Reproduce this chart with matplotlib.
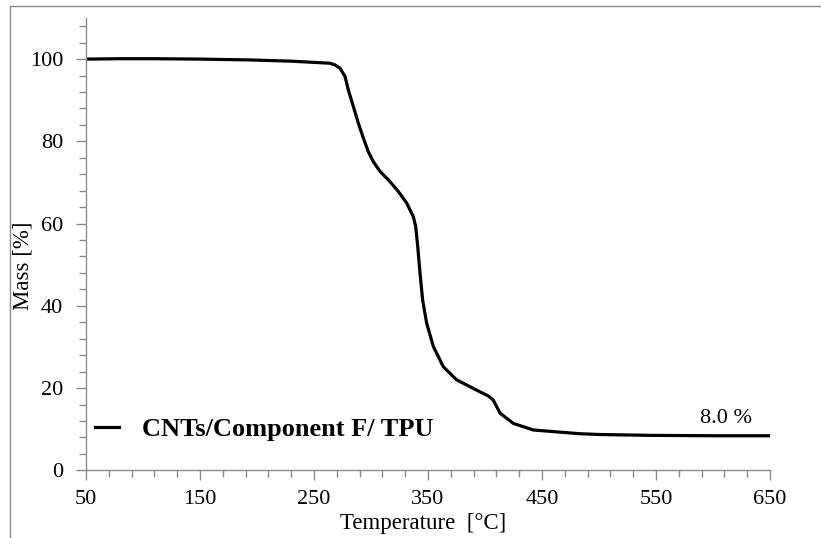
import matplotlib
matplotlib.use("Agg")
import matplotlib.pyplot as plt
from matplotlib.ticker import FixedLocator, MultipleLocator
from matplotlib.lines import Line2D
import numpy as np

temperature = [50, 80, 110, 150, 194, 230, 264, 268.4, 272.8, 277.2, 280.1, 284.5, 288.9,
               293.3, 297.6, 302, 307.9, 316.7, 324, 331.3, 337.1, 339.2, 341, 343,
               345.3, 348.8, 354.7, 363.4, 375.1, 392.6, 402.8, 407.2, 413.2, 424.9,
               442.4, 483, 501, 545, 600, 650]
mass = [100.0, 100.1, 100.1, 100.0, 99.8, 99.5, 99.0, 98.6, 97.8, 95.8, 92.5, 88.5, 84.4,
        80.8, 77.5, 75.1, 72.7, 70.2, 67.8, 65.0, 61.7, 59.3, 54.4, 47.9,
        41.4, 35.8, 30.1, 25.2, 22.0, 19.5, 18.1, 17.1, 13.9, 11.4,
        9.8, 8.9, 8.7, 8.5, 8.4, 8.4]
series_label = "CNTs/Component F/ TPU"
residue_label = "8.0 %"
x_ticks = [50, 150, 250, 350, 450, 550, 650]
y_ticks = [0, 20, 40, 60, 80, 100]

plt.rcParams['font.family'] = ['Liberation Serif', 'DejaVu Serif']

fig = plt.figure(figsize=(8.21, 5.38), dpi=100)
ax_left, ax_right, ax_top, ax_bottom = 86, 770, 18, 470.3
ax = fig.add_axes([ax_left/821, 1-ax_bottom/538, (ax_right-ax_left)/821, (ax_bottom-ax_top)/538])

ax.plot(temperature, mass, color='black', lw=2.3, solid_capstyle='round',
        solid_joinstyle='round')

ax.set_xlim(50, 650)
ax.set_ylim(0, 110)
ax.set_xticks(x_ticks)
ax.set_yticks(y_ticks)
ax.xaxis.set_minor_locator(FixedLocator(np.arange(50, 651, 20)))
ax.yaxis.set_minor_locator(MultipleLocator(4))

gray = '#8a8a8a'
for s in ['top', 'right']:
    ax.spines[s].set_visible(False)
for s in ['left', 'bottom']:
    ax.spines[s].set_color(gray)
    ax.spines[s].set_linewidth(1.0)
ax.tick_params(which='major', direction='out', length=7, width=1.0, color=gray,
               labelsize=16)
ax.tick_params(which='minor', direction='out', length=5, width=1.0, color=gray)
ax.tick_params(axis='x', which='major', pad=7)
ax.tick_params(axis='y', which='major', pad=9.5)

ax.set_xlabel("Temperature  [°C]", fontsize=16.5, va='top')
ax.xaxis.set_label_coords((423-ax_left)/(ax_right-ax_left), (ax_bottom-513)/(ax_bottom-ax_top))
ax.set_ylabel("Mass [%]", fontsize=16.5, va='bottom')
ax.yaxis.set_label_coords((34-ax_left)/(ax_right-ax_left), (ax_bottom-266)/(ax_bottom-ax_top))

ax.text(611, 12.5, residue_label, fontsize=16, ha='center', va='center')

handle = Line2D([0], [0], color='black', lw=2.3)
leg = ax.legend([handle], [series_label], loc='center left',
                bbox_to_anchor=((95-ax_left)/(ax_right-ax_left), (ax_bottom-429)/(ax_bottom-ax_top)),
                frameon=False, handlelength=0.9, handletextpad=0.9, borderpad=0, borderaxespad=0,
                prop={'family': ['Liberation Serif'], 'weight': 'bold', 'size': 19})

# figure frame lines (top and left)
fig.add_artist(Line2D([10/821, 10/821], [0, 1-6/538], transform=fig.transFigure,
                      color=gray, lw=1.0))
fig.add_artist(Line2D([10/821, 1], [1-6/538, 1-6/538], transform=fig.transFigure,
                      color=gray, lw=1.0))

fig.savefig("out.png", dpi=100)
